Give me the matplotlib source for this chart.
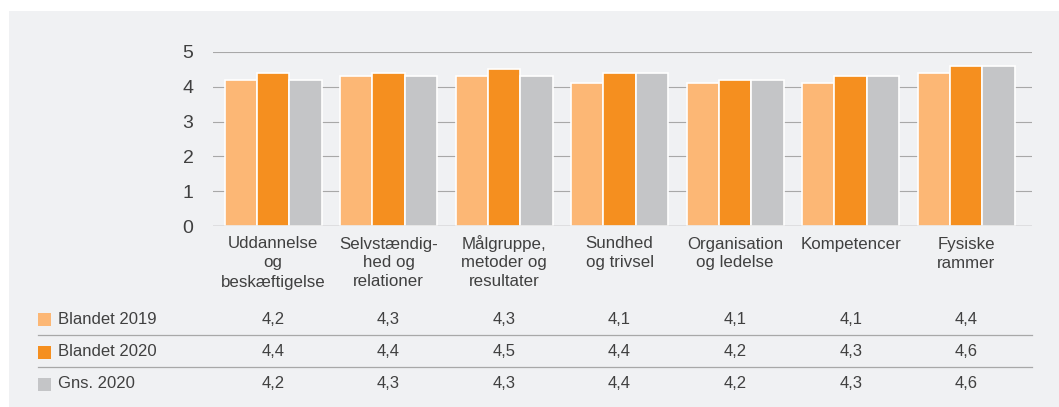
import numpy as np
import matplotlib.pyplot as plt
import matplotlib.transforms as mtrans
from matplotlib.patches import Rectangle

categories = ["Uddannelse\nog\nbeskæftigelse", "Selvstændig-\nhed og\nrelationer",
              "Målgruppe,\nmetoder og\nresultater", "Sundhed\nog trivsel",
              "Organisation\nog ledelse", "Kompetencer", "Fysiske\nrammer"]
series_names = ["Blandet 2019", "Blandet 2020", "Gns. 2020"]
blandet_2019 = [4.2, 4.3, 4.3, 4.1, 4.1, 4.1, 4.4]
blandet_2020 = [4.4, 4.4, 4.5, 4.4, 4.2, 4.3, 4.6]
gns_2020 = [4.2, 4.3, 4.3, 4.4, 4.2, 4.3, 4.6]
colors = ["#fcb775", "#f58f1f", "#c4c5c7"]

plt.rcParams['font.family'] = ['Liberation Sans', 'DejaVu Sans']

W, H = 1059, 407
fig = plt.figure(figsize=(W / 100, H / 100), dpi=100)
fig.patch.set_facecolor("white")
# grey panel behind everything
fig.patches.append(Rectangle((9 / W, 0), 1 - 9 / W, 1 - 11 / H, transform=fig.transFigure,
                             facecolor="#f0f1f3", edgecolor="none", zorder=-10))

txt = "#404040"
gridc = "#a8a8a8"
ax = fig.add_axes([213 / W, 1 - 226 / H, (1032 - 213) / W, (226 - 52) / H])
ax.set_facecolor("none")

x = np.arange(len(categories))
step = 0.28
for i, vals in enumerate([blandet_2019, blandet_2020, gns_2020]):
    ax.bar(x + (i - 1) * step, vals, width=step, color=colors[i],
           edgecolor="white", linewidth=1.2, zorder=3)

ax.set_xlim(-0.52, 6.57)
ax.set_ylim(0, 5)
ax.set_yticks(range(6))
ax.grid(axis="y", color=gridc, linewidth=0.8, zorder=1)
for s in ax.spines.values():
    s.set_visible(False)
ax.axhline(0, color=gridc, linewidth=1.0, zorder=4)
ax.tick_params(axis="y", length=0, labelsize=14, labelcolor=txt, pad=14)
ax.set_xticks([])

blend = mtrans.blended_transform_factory(ax.transData, fig.transFigure)

# category labels, line by line so baselines line up
for c, lab in enumerate(categories):
    for k, line in enumerate(lab.split("\n")):
        ax.text(x[c], 1 - (248.5 + 19 * k) / H, line, transform=blend, fontsize=12.2,
                color=txt, ha="center", va="baseline", clip_on=False)

# table beneath
row_y = [319, 352, 384]
line_y = [335, 367]
all_vals = [blandet_2019, blandet_2020, gns_2020]
for r, name in enumerate(series_names):
    yy = 1 - row_y[r] / H
    fig.patches.append(Rectangle((38 / W, yy - 6.5 / H), 13 / W, 13 / H, transform=fig.transFigure,
                                 facecolor=colors[r], edgecolor="none", zorder=2))
    fig.text(58 / W, yy, name, fontsize=12, color=txt, va="center", ha="left")
    for c, v in enumerate(all_vals[r]):
        ax.text(x[c], yy, f"{v:.1f}".replace(".", ","), transform=blend, fontsize=12,
                color=txt, va="center", ha="center", clip_on=False)
for ly in line_y:
    fig.add_artist(plt.Line2D([38 / W, 1032 / W], [1 - ly / H, 1 - ly / H],
                              transform=fig.transFigure, color=gridc, linewidth=0.9))

fig.savefig("out.png", dpi=100, facecolor=fig.get_facecolor())
